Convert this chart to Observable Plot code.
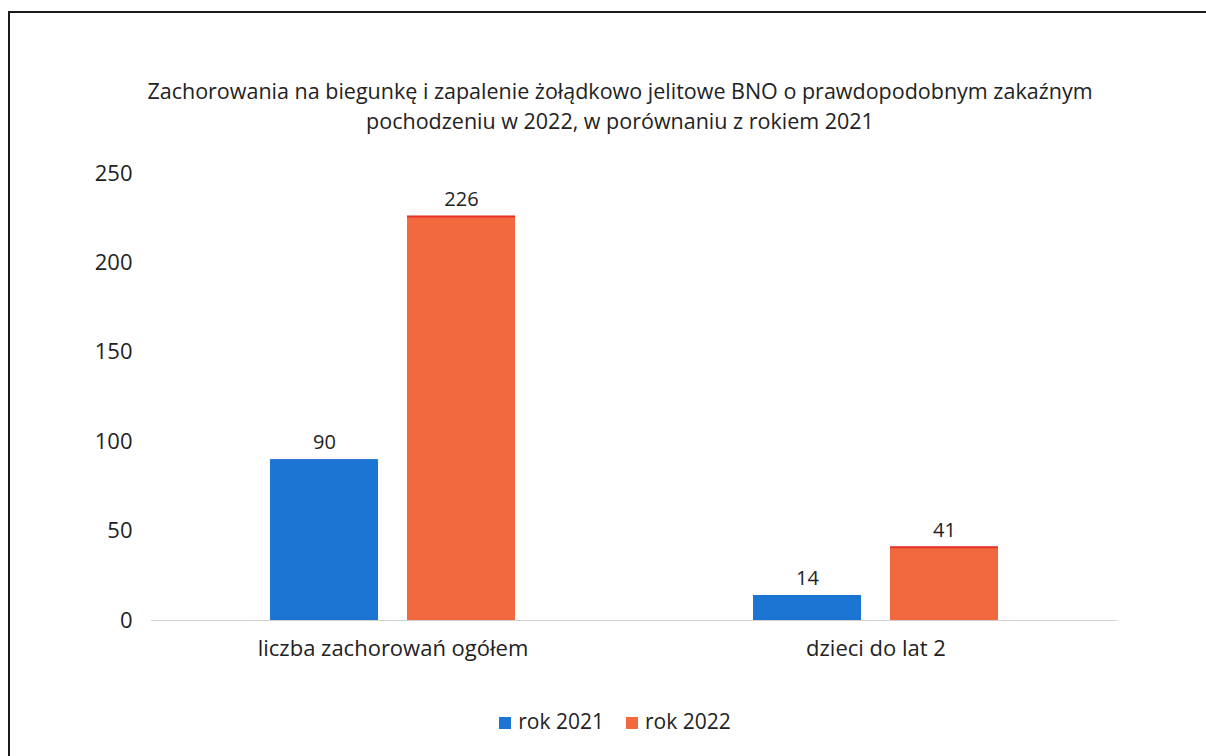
<!DOCTYPE html>
<html><head><meta charset="utf-8">
<script src="https://cdn.jsdelivr.net/npm/d3@7"></script>
<script src="https://cdn.jsdelivr.net/npm/@observablehq/plot@0.6"></script>
<style>
body{margin:0;background:#fff;width:1206px;height:756px;overflow:hidden;position:relative;font-family:"Open Sans",sans-serif;color:#222}
#frame{position:absolute;left:8px;top:11px;width:1300px;height:800px;border:2px solid #1a1a1a;box-sizing:border-box}
#title{position:absolute;left:0;width:1240px;top:76px;text-align:center;font-size:21.5px;line-height:30px}
#chart{position:absolute;left:0;top:150px}
#legend{position:absolute;top:707px;left:0;width:1230px;text-align:center;font-size:21px}
.sw{display:inline-block;width:12px;height:12px;margin-right:7px;vertical-align:0px}
.it{margin:0 11px}
</style></head>
<body>
<div id="frame"></div>
<div id="title">Zachorowania na biegunkę i zapalenie żołądkowo jelitowe BNO o prawdopodobnym zakaźnym<br>pochodzeniu w 2022, w porównaniu z rokiem 2021</div>
<div id="chart"></div>
<div id="legend"></div>
<script>
const categories = ["liczba zachorowań ogółem", "dzieci do lat 2"];
const series = ["rok 2021", "rok 2022"];
const values2021 = [90, 14];
const values2022 = [226, 41];
const yTicks = [0, 50, 100, 150, 200, 250];
const colors = ["#1c75d3", "#f2693f"];

const data = categories.flatMap((c, i) => [
  {cat: c, s: series[0], v: values2021[i]},
  {cat: c, s: series[1], v: values2022[i]}
]);

const font = '"Open Sans", sans-serif';
const chart = Plot.plot({
  width: 1206, height: 530,
  marginTop: 23, marginBottom: 60, marginLeft: 150, marginRight: 89,
  style: {fontFamily: font, fontSize: "22px", color: "#222", background: "transparent"},
  fx: {domain: categories, padding: 0, label: null, axis: "bottom", tickSize: 0, tickPadding: 20},
  x: {domain: series, axis: null, paddingInner: 0.21, paddingOuter: 0.857},
  y: {domain: [0, 250], ticks: yTicks, tickSize: 0, tickPadding: 19, label: null},
  color: {domain: series, range: colors},
  marks: [
    Plot.ruleY([0], {stroke: "#d0d0d0", strokeWidth: 1.2}),
    Plot.barY(data, {fx: "cat", x: "s", y: "v", fill: "s"}),
    Plot.tickY(data.filter(d => d.s === series[1]), {fx: "cat", x: "s", y: "v", stroke: "#e8302a", strokeWidth: 2}),
    Plot.text(data, {fx: "cat", x: "s", y: "v", text: d => String(d.v), dy: -17, fontSize: 20, fill: "#222"})
  ]
});
document.getElementById("chart").append(chart);

const lg = d3.select("#legend");
series.forEach((s, i) => {
  const it = lg.append("span").attr("class", "it");
  it.append("span").attr("class", "sw").style("background", colors[i]);
  it.append("span").text(s);
});
</script>
</body></html>
